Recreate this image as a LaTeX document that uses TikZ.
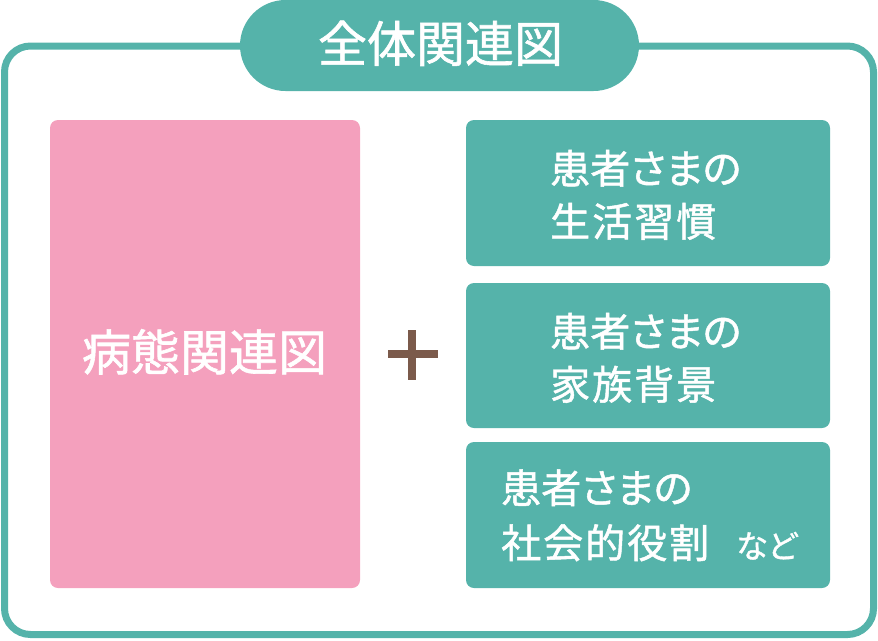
\documentclass[tikz,border=0pt]{standalone}
\usepackage{fontspec}
\setmainfont[FakeBold=1.2]{Noto Sans CJK JP}
\newfontfamily\propfont[FakeBold=1.2,RawFeature=+palt]{Noto Sans CJK JP}
\newfontfamily\widefont[FakeBold=1.2,LetterSpace=5]{Noto Sans CJK JP}
\definecolor{teal1}{HTML}{55B3AA}
\definecolor{pink1}{HTML}{F4A0BD}
\definecolor{brown1}{HTML}{7B5A4B}
\begin{document}
\begin{tikzpicture}[x=1pt,y=-1pt,
  tbox/.style={fill=teal1,rounded corners=8pt},
  wtxt/.style={text=white,font=\propfont\fontsize{40}{44}\selectfont,inner sep=0pt,anchor=base west},
  ktxt/.style={text=white,font=\widefont\fontsize{40}{44}\selectfont,inner sep=0pt,anchor=base west}]
\useasboundingbox (0,0) rectangle (878,640);
\draw[teal1,line width=7pt,rounded corners=26pt] (4.5,46) rectangle (873.5,634.5);
\fill[teal1,rounded corners=45.5pt] (240,0) rectangle (639,91);
\node[text=white,font=\fontsize{49}{52}\selectfont,inner sep=0pt,anchor=base] (title) at (440.5,62) {全体関連図};
\fill[pink1,rounded corners=8pt] (50,120) rectangle (360,588);
\node[text=white,font=\fontsize{49}{52}\selectfont,inner sep=0pt,anchor=base] (byo) at (204.5,370.5) {病態関連図};
\fill[brown1] (388,350) rectangle (438,358);
\fill[brown1] (408,330) rectangle (416,380);
\fill[tbox] (466,120) rectangle (830,266);
\fill[tbox] (466,283) rectangle (830,428);
\fill[tbox] (466,442) rectangle (830,588);
\node[wtxt] (t1a) at (550,183.5) {患者さまの};
\node[ktxt] (t1b) at (550,236.5) {生活習慣};
\node[wtxt] (t2a) at (550,346.5) {患者さまの};
\node[ktxt] (t2b) at (550,399.5) {家族背景};
\node[wtxt] (t3a) at (501,503) {患者さまの};
\node[ktxt] (t3b) at (501,558) {社会的役割};
\node[wtxt,font=\propfont\fontsize{32}{40}\selectfont] (t3c) at (736,558) {など};
\end{tikzpicture}
\end{document}
